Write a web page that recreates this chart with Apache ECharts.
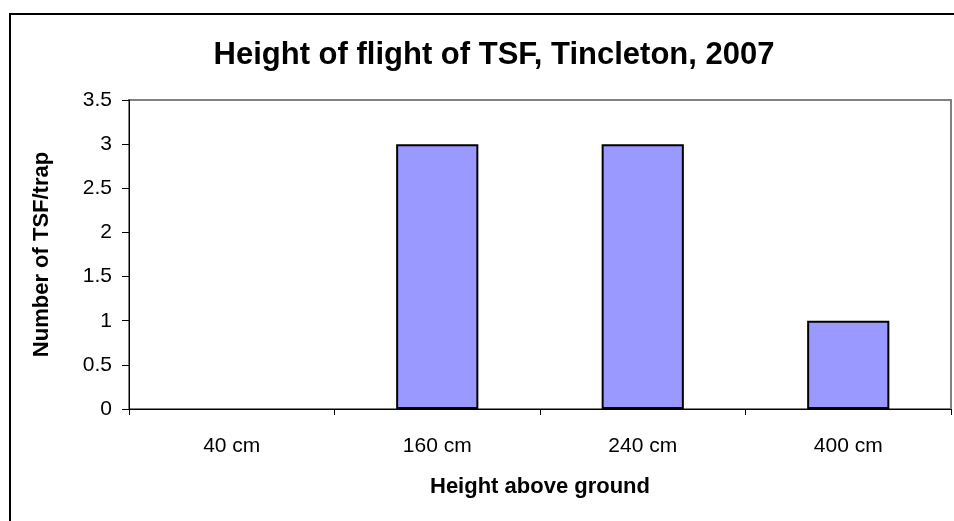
<!DOCTYPE html>
<html>
<head>
<meta charset="utf-8">
<script src="https://cdn.jsdelivr.net/npm/echarts@6/dist/echarts.min.js"></script>
<style>
  html, body { margin: 0; padding: 0; background: #fff; }
  #chart { width: 954px; height: 521px; }
</style>
</head>
<body>
<div id="chart"></div>
<script>
// Trap heights and mean catch per trap
const categories = ['40 cm', '160 cm', '240 cm', '400 cm'];
const tsfPerTrap = [0, 3, 3, 1];
const yTicks = [0, 0.5, 1, 1.5, 2, 2.5, 3, 3.5];

const chart = echarts.init(document.getElementById('chart'));

// Empty bars get no outline so the baseline stays a single thin axis line
const barData = tsfPerTrap.map(v => ({
  value: v,
  itemStyle: v === 0 ? { borderWidth: 0 } : undefined
}));

chart.setOption({
  backgroundColor: '#ffffff',
  animation: false,
  title: {
    text: 'Height of flight of TSF, Tincleton, 2007',
    left: 489,
    textAlign: 'center',
    top: 35,
    textStyle: {
      fontFamily: 'Liberation Sans, Arial',
      fontWeight: 'bold',
      fontSize: 31,
      color: '#000'
    }
  },
  graphic: [{
    type: 'rect',
    shape: { x: 10, y: 14, width: 960, height: 530 },
    style: { fill: 'none', stroke: '#000', lineWidth: 2 },
    silent: true
  }],
  grid: {
    left: 129,
    right: 3,
    top: 100,
    bottom: 112,
    show: true,
    borderColor: '#808080',
    borderWidth: 2,
    backgroundColor: '#fff'
  },
  xAxis: {
    type: 'category',
    data: categories,
    name: 'Height above ground',
    nameLocation: 'middle',
    nameGap: 67,
    nameTextStyle: {
      fontFamily: 'Liberation Sans, Arial',
      fontWeight: 'bold',
      fontSize: 22,
      color: '#000'
    },
    axisLine: { lineStyle: { color: '#000', width: 1 } },
    axisTick: { show: true, length: 6, alignWithLabel: false, lineStyle: { color: '#000' } },
    axisLabel: {
      margin: 27,
      fontFamily: 'Liberation Sans, Arial',
      fontSize: 21,
      color: '#000'
    },
    splitLine: { show: false }
  },
  yAxis: {
    type: 'value',
    min: 0,
    max: 3.5,
    interval: 0.5,
    name: 'Number of TSF/trap',
    nameLocation: 'middle',
    nameGap: 76,
    nameTextStyle: {
      fontFamily: 'Liberation Sans, Arial',
      fontWeight: 'bold',
      fontSize: 22,
      color: '#000'
    },
    axisLine: { show: true, lineStyle: { color: '#000', width: 1 } },
    axisTick: { show: true, length: 7, lineStyle: { color: '#000' } },
    axisLabel: {
      margin: 17,
      fontFamily: 'Liberation Sans, Arial',
      fontSize: 21,
      color: '#000',
      formatter: v => (yTicks.includes(v) ? String(v) : '')
    },
    splitLine: { show: false }
  },
  series: [{
    type: 'bar',
    data: barData,
    barWidth: '40%',
    itemStyle: {
      color: '#9999ff',
      borderColor: '#000',
      borderWidth: 2
    }
  }]
});
</script>
</body>
</html>
